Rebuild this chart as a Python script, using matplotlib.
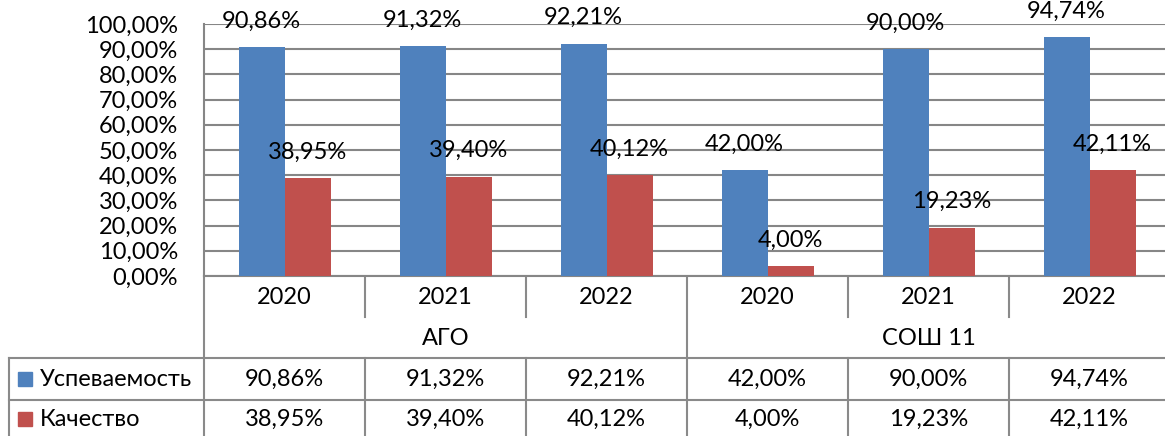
import numpy as np
import matplotlib
matplotlib.use("Agg")
import matplotlib.pyplot as plt
from matplotlib.transforms import blended_transform_factory

plt.rcParams['font.family'] = ['Lato', 'Noto Sans', 'DejaVu Sans']

years = ["2020", "2021", "2022", "2020", "2021", "2022"]
groups = ["АГО", "СОШ 11"]
series_names = ["Успеваемость", "Качество"]
uspevaemost = [90.86, 91.32, 92.21, 42.00, 90.00, 94.74]
kachestvo = [38.95, 39.40, 40.12, 4.00, 19.23, 42.11]
y_ticks = [0, 10, 20, 30, 40, 50, 60, 70, 80, 90, 100]

BLUE = "#4F81BD"
RED = "#C0504D"
GRID = "#868686"
FS = 17

def fmt(v):
    return f"{v:.2f}".replace(".", ",") + "%"

W, H = 1165, 436
fig = plt.figure(figsize=(W / 100, H / 100), dpi=100)

left_px, right_px = 204, 1165
top_px, zero_px = 24, 276
cat_px = 161.0
ax = fig.add_axes([left_px / W, (H - zero_px) / H, (right_px - left_px) / W, (zero_px - top_px) / H])
ax.set_xlim(-0.5, -0.5 + (right_px - left_px) / cat_px)
ax.set_ylim(0, 100)

x = np.arange(len(years))
bw = 46 / cat_px
ax.bar(x - bw / 2, uspevaemost, bw, color=BLUE, zorder=3)
ax.bar(x + bw / 2, kachestvo, bw, color=RED, zorder=3)

for xi, v in zip(x, uspevaemost):
    ax.annotate(fmt(v), (xi - bw / 2, v), xytext=(0, 26 * 0.72), textcoords="offset points",
                ha="center", va="center", fontsize=FS, zorder=5, annotation_clip=False)
for xi, v in zip(x, kachestvo):
    ax.annotate(fmt(v), (xi + bw / 2, v), xytext=(0, 26 * 0.72), textcoords="offset points",
                ha="center", va="center", fontsize=FS, zorder=5, annotation_clip=False)

ax.set_yticks(y_ticks)
ax.set_yticklabels([fmt(t) for t in y_ticks], fontsize=FS)
ax.tick_params(axis="y", length=0, pad=26 * 0.72)
ax.set_xticks([])
ax.yaxis.grid(True, color=GRID, lw=1.5, zorder=0)
for s in ["top", "right"]:
    ax.spines[s].set_visible(False)
for s in ["left", "bottom"]:
    ax.spines[s].set_color(GRID)
    ax.spines[s].set_linewidth(1.5)

# overlay for data table (pixel coordinates in y, data coordinates in x)
ov = fig.add_axes([0, 0, 1, 1], zorder=-1)
ov.set_xlim(0, W)
ov.set_ylim(H, 0)
ov.axis("off")
ov.patch.set_alpha(0)
tr = blended_transform_factory(ax.transData, ov.transData)

LC = "#8a8a8a"
LW = 1.5
y_year_bot = 317
y_hdr_bot = 358
y_row1_bot = 400

# vertical lines in data coordinates
ov.plot([-0.5, -0.5], [zero_px, H], color=LC, lw=LW, transform=tr, clip_on=False)
for b in np.arange(len(years) - 1) + 0.5:
    if b == 2.5:
        ov.plot([b, b], [zero_px, H], color=LC, lw=LW, transform=tr, clip_on=False)
    else:
        ov.plot([b, b], [zero_px, y_year_bot], color=LC, lw=LW, transform=tr, clip_on=False)
        ov.plot([b, b], [y_hdr_bot, H], color=LC, lw=LW, transform=tr, clip_on=False)
# outer left border of legend column and horizontal lines
ov.plot([9, 9], [y_hdr_bot, H], color=LC, lw=LW)
ov.plot([9, W], [y_hdr_bot, y_hdr_bot], color=LC, lw=LW)
ov.plot([9, W], [y_row1_bot, y_row1_bot], color=LC, lw=LW)

# year labels
for xi, yl in zip(x, years):
    ov.text(xi, 297, yl, transform=tr, ha="center", va="center", fontsize=FS)
# group labels
for gi, g in enumerate(groups):
    ov.text(gi * 3 + 1, 338, g, transform=tr, ha="center", va="center", fontsize=FS)

# table rows
row_y = [379, 419]
for ry, name, col, vals in zip(row_y, series_names, [BLUE, RED], [uspevaemost, kachestvo]):
    ov.add_patch(plt.Rectangle((18, ry - 7), 14, 14, color=col))
    ov.text(40, ry, name, ha="left", va="center", fontsize=FS)
    for xi, v in zip(x, vals):
        ov.text(xi, ry, fmt(v), transform=tr, ha="center", va="center", fontsize=FS)

fig.savefig("out.png", dpi=100)
